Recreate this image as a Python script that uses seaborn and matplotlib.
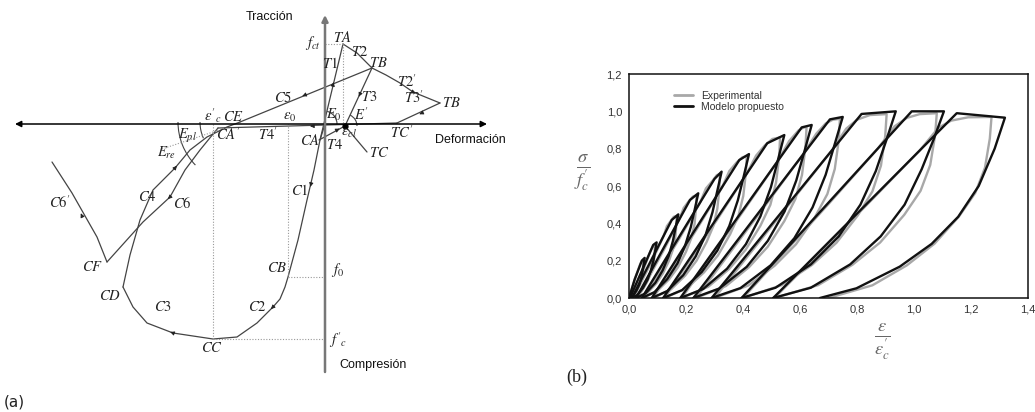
import numpy as np
import pandas as pd
import matplotlib
matplotlib.use("Agg")
import matplotlib.pyplot as plt
from matplotlib.patches import Arc
from matplotlib.lines import Line2D
from matplotlib.ticker import FuncFormatter
import seaborn as sns

sns.set_theme(style="white")
plt.rcParams["font.family"] = ["Liberation Sans", "DejaVu Sans"]
plt.rcParams["mathtext.fontset"] = "stix"

# ---------------- (a) schematic model: branch data (strain, stress) ----------------
comp_env_x = [0, -5, -11, -18, -27, -37, -40, -45, -52, -68, -88, -112, -152, -178, -192, -202]
comp_env_y = [0, -16, -46, -76, -116, -153, -163, -175, -183, -199, -213, -215, -209, -199, -183, -163]
c4_x = [-202, -195, -185, -172, -150, -135, -118, -98, -85]
c4_y = [-163, -131, -96, -66, -44, -26, -13, -3, 2]
c5_x = [-85, 47]
c5_y = [2, 56]
t1_x = [-5, 18]
t1_y = [-16, 80]
t2_x = [18, 32, 47]
t2_y = [80, 71, 56]
t2p_x = [47, 61, 75, 88, 115]
t2p_y = [56, 49, 41, 32, 21]
t3_x = [47, 20]
t3_y = [56, -2]
t3p_x = [115, 72]
t3p_y = [21, 1]
tc_x = [20, 42]
tc_y = [-2, -28]
t4_x = [-6, 20]
t4_y = [-16, -2]
t4p_x = [72, -107]
t4p_y = [1, -4]
c6_x = [-107, -125, -140, -155, -182, -218]
c6_y = [-4, -26, -46, -73, -98, -138]
c6p_x = [-218, -228, -253, -273]
c6p_y = [-138, -113, -69, -38]

# reference (dotted) lines
eps_c_x = [-112, -112]; eps_c_y = [0, -215]
eps_0_x = [-37, -37]; eps_0_y = [0, -153]
f0_x = [-37, 0]; f0_y = [-153, -153]
fc_x = [-112, 0]; fc_y = [-215, -215]
fct_x = [0, 18]; fct_y = [80, 80]
ta_x = [18, 18]; ta_y = [80, 0]
ere_x = [-163, -100]; ere_y = [-25, -4]

# ---------------- (b) cyclic curves (eps/eps'c, sigma/f'c) ----------------
model_loop_00 = [(0, 0), (0.02, 0.10), (0.045, 0.20), (0.055, 0.215), (0.052, 0.183), (0.048, 0.146), (0.043, 0.108), (0.036, 0.071), (0.026, 0.039), (0.014, 0.012), (0.003, 0)]
model_loop_01 = [(0.003, 0), (0.085, 0.284), (0.097, 0.298), (0.092, 0.253), (0.086, 0.203), (0.077, 0.149), (0.065, 0.098), (0.049, 0.054), (0.029, 0.016), (0.010, 0)]
model_loop_02 = [(0.010, 0), (0.150, 0.418), (0.173, 0.448), (0.164, 0.381), (0.154, 0.305), (0.139, 0.224), (0.118, 0.148), (0.092, 0.081), (0.058, 0.025), (0.025, 0)]
model_loop_03 = [(0.025, 0), (0.214, 0.525), (0.243, 0.561), (0.231, 0.477), (0.217, 0.381), (0.197, 0.281), (0.170, 0.185), (0.134, 0.101), (0.089, 0.031), (0.045, 0)]
model_loop_04 = [(0.045, 0), (0.300, 0.638), (0.325, 0.677), (0.310, 0.575), (0.293, 0.460), (0.269, 0.339), (0.234, 0.223), (0.190, 0.122), (0.134, 0.037), (0.080, 0)]
model_loop_05 = [(0.080, 0), (0.387, 0.739), (0.421, 0.771), (0.403, 0.655), (0.382, 0.524), (0.352, 0.386), (0.310, 0.254), (0.255, 0.139), (0.186, 0.042), (0.120, 0)]
model_loop_06 = [(0.120, 0), (0.485, 0.829), (0.545, 0.873), (0.523, 0.742), (0.498, 0.594), (0.461, 0.437), (0.410, 0.288), (0.344, 0.157), (0.260, 0.048), (0.180, 0)]
model_loop_07 = [(0.180, 0), (0.606, 0.914), (0.641, 0.927), (0.616, 0.788), (0.587, 0.630), (0.546, 0.464), (0.487, 0.306), (0.413, 0.167), (0.317, 0.051), (0.226, 0)]
model_loop_08 = [(0.226, 0), (0.705, 0.957), (0.750, 0.970), (0.722, 0.825), (0.690, 0.660), (0.644, 0.485), (0.580, 0.320), (0.497, 0.175), (0.391, 0.053), (0.290, 0)]
model_loop_09 = [(0.290, 0), (0.816, 0.986), (0.936, 1.000), (0.904, 0.850), (0.866, 0.680), (0.812, 0.500), (0.736, 0.330), (0.638, 0.180), (0.514, 0.055), (0.395, 0)]
model_loop_10 = [(0.395, 0), (0.992, 1.000), (1.105, 1.000), (1.069, 0.850), (1.027, 0.690), (0.967, 0.500), (0.883, 0.330), (0.776, 0.180), (0.638, 0.055), (0.506, 0)]
model_loop_11 = [(0.506, 0), (1.150, 0.990), (1.319, 0.966), (1.283, 0.800), (1.227, 0.600), (1.155, 0.435), (1.062, 0.290), (0.950, 0.168), (0.798, 0.052), (0.670, 0)]

exp_loop_00 = [(0, 0), (0.02, 0.10), (0.04, 0.185), (0.05, 0.205), (0.049, 0.17), (0.045, 0.12), (0.035, 0.065), (0.02, 0.02), (0.005, 0)]
exp_loop_01 = [(0.005, 0), (0.048, 0.142), (0.075, 0.25), (0.085, 0.282), (0.091, 0.29), (0.090, 0.255), (0.088, 0.209), (0.083, 0.168), (0.076, 0.131), (0.064, 0.087), (0.051, 0.052), (0.036, 0.020), (0.015, 0)]
exp_loop_02 = [(0.015, 0), (0.084, 0.209), (0.122, 0.334), (0.133, 0.385), (0.145, 0.41), (0.157, 0.435), (0.167, 0.44), (0.166, 0.387), (0.162, 0.317), (0.153, 0.255), (0.140, 0.198), (0.119, 0.132), (0.096, 0.079), (0.067, 0.031), (0.03, 0)]
exp_loop_03 = [(0.03, 0), (0.124, 0.2625), (0.176, 0.42), (0.192, 0.483), (0.208, 0.515), (0.224, 0.543), (0.237, 0.55), (0.235, 0.484), (0.230, 0.396), (0.218, 0.319), (0.200, 0.248), (0.172, 0.165), (0.140, 0.099), (0.100, 0.039), (0.05, 0)]
exp_loop_04 = [(0.05, 0), (0.177, 0.319), (0.249, 0.510), (0.270, 0.587), (0.293, 0.628), (0.308, 0.658), (0.319, 0.665), (0.317, 0.585), (0.310, 0.479), (0.296, 0.386), (0.272, 0.299), (0.237, 0.200), (0.197, 0.120), (0.148, 0.047), (0.085, 0)]
exp_loop_05 = [(0.085, 0), (0.238, 0.3695), (0.326, 0.591), (0.352, 0.680), (0.378, 0.727), (0.398, 0.754), (0.413, 0.76), (0.410, 0.669), (0.401, 0.547), (0.384, 0.441), (0.355, 0.342), (0.312, 0.228), (0.263, 0.137), (0.203, 0.053), (0.125, 0)]
exp_loop_06 = [(0.125, 0), (0.307, 0.4145), (0.412, 0.663), (0.446, 0.763), (0.476, 0.817), (0.503, 0.852), (0.53, 0.86), (0.527, 0.757), (0.516, 0.619), (0.496, 0.499), (0.461, 0.387), (0.409, 0.258), (0.351, 0.155), (0.278, 0.060), (0.185, 0)]
exp_loop_07 = [(0.185, 0), (0.397, 0.457), (0.521, 0.731), (0.562, 0.841), (0.595, 0.898), (0.612, 0.913), (0.623, 0.915), (0.619, 0.805), (0.607, 0.659), (0.584, 0.531), (0.545, 0.412), (0.487, 0.275), (0.421, 0.165), (0.340, 0.064), (0.235, 0)]
exp_loop_08 = [(0.235, 0), (0.470, 0.4785), (0.609, 0.766), (0.657, 0.880), (0.690, 0.935), (0.715, 0.955), (0.74, 0.96), (0.736, 0.845), (0.722, 0.691), (0.696, 0.557), (0.652, 0.432), (0.586, 0.288), (0.511, 0.173), (0.419, 0.067), (0.30, 0)]
exp_loop_09 = [(0.30, 0), (0.557, 0.493), (0.711, 0.789), (0.762, 0.907), (0.800, 0.955), (0.845, 0.980), (0.904, 0.985), (0.899, 0.867), (0.884, 0.709), (0.854, 0.571), (0.803, 0.443), (0.728, 0.296), (0.642, 0.177), (0.536, 0.069), (0.40, 0)]
exp_loop_10 = [(0.40, 0), (0.698, 0.5), (0.873, 0.8), (0.932, 0.92), (0.975, 0.965), (1.02, 0.985), (1.08, 0.99), (1.074, 0.871), (1.057, 0.713), (1.023, 0.574), (0.966, 0.446), (0.881, 0.297), (0.784, 0.178), (0.664, 0.069), (0.51, 0)]
exp_loop_11 = [(0.51, 0), (0.832, 0.495), (1.021, 0.792), (1.085, 0.911), (1.13, 0.95), (1.19, 0.968), (1.272, 0.97), (1.266, 0.854), (1.249, 0.698), (1.215, 0.563), (1.158, 0.437), (1.072, 0.291), (0.975, 0.175), (0.854, 0.068), (0.70, 0)]

model_loops = [model_loop_00, model_loop_01, model_loop_02, model_loop_03, model_loop_04, model_loop_05,
               model_loop_06, model_loop_07, model_loop_08, model_loop_09, model_loop_10, model_loop_11]
exp_loops = [exp_loop_00, exp_loop_01, exp_loop_02, exp_loop_03, exp_loop_04, exp_loop_05,
             exp_loop_06, exp_loop_07, exp_loop_08, exp_loop_09, exp_loop_10, exp_loop_11]

x_ticks = [0.0, 0.2, 0.4, 0.6, 0.8, 1.0, 1.2, 1.4]
y_ticks = [0.0, 0.2, 0.4, 0.6, 0.8, 1.0, 1.2]
legend_labels = ["Experimental", "Modelo propuesto"]


def loops_to_df(loops):
    rows = []
    for i, lp in enumerate(loops):
        for k, (x, y) in enumerate(lp):
            rows.append({"loop": i, "order": k, "x": x, "y": y})
    return pd.DataFrame(rows)


df_model = loops_to_df(model_loops)
df_exp = loops_to_df(exp_loops)

fig = plt.figure(figsize=(10.35, 4.12), dpi=100)
fig.patch.set_facecolor("white")

# ================= panel (a) =================
axL = fig.add_axes([0, 0, 520 / 1035, 1])
axL.set_xlim(-325, 195)
axL.set_ylim(-288, 124)
axL.axis("off")

lc = "#444444"
lw = 0.9
# axes
axL.annotate("", xy=(-310, 0), xytext=(162, 0),
             arrowprops=dict(arrowstyle="<|-|>", color="black", lw=1.1,
                             mutation_scale=9, shrinkA=0, shrinkB=0))
axL.annotate("", xy=(0, 109), xytext=(0, -248),
             arrowprops=dict(arrowstyle="-|>", color="#777777", lw=1.8,
                             mutation_scale=9, shrinkA=0, shrinkB=0))

branches = [(comp_env_x, comp_env_y), (c4_x, c4_y), (c5_x, c5_y), (t1_x, t1_y),
            (t2_x, t2_y), (t2p_x, t2p_y), (t3_x, t3_y), (t3p_x, t3p_y), (tc_x, tc_y),
            (t4_x, t4_y), (t4p_x, t4p_y), (c6_x, c6_y), (c6p_x, c6p_y)]
for bx, by in branches:
    axL.plot(bx, by, color=lc, lw=lw, solid_joinstyle="round")

dotted = [(eps_c_x, eps_c_y), (eps_0_x, eps_0_y), (f0_x, f0_y), (fc_x, fc_y),
          (fct_x, fct_y), (ta_x, ta_y), (ere_x, ere_y)]
for bx, by in dotted:
    axL.plot(bx, by, color="#999999", lw=0.8, ls=(0, (1, 1.5)))

axL.plot([20], [-2], "o", color="black", ms=3.5)

# arcs for moduli
axL.add_patch(Arc((-85, 2), 124, 124, theta1=180, theta2=224, color=lc, lw=0.8))
axL.add_patch(Arc((-85, 2), 80, 80, theta1=180, theta2=204, color=lc, lw=0.8))
axL.add_patch(Arc((-1, 0), 26, 26, theta1=0, theta2=76, color=lc, lw=0.8))
axL.add_patch(Arc((20, -2), 24, 24, theta1=0, theta2=65, color=lc, lw=0.8))

# direction arrows
arrows = [(-14, -60, -7, -30), (-52, -183, -16, -16), (-152, -209, -26, 10),
          (-150, -44, 15, 18), (-155, -73, -27, -25), (-243, -92, -10, 22),
          (-20, 29, -132, -54), (8, 39, 23, 96), (88, 32, 27, -11),
          (35, 30, -27, -58), (97, 11, -43, -20), (12, -6, 26, 14), (-12, -2, -179, -5)]
for x0, y0, dx, dy in arrows:
    n = np.hypot(dx, dy)
    axL.annotate("", xy=(x0 + 3 * dx / n, y0 + 3 * dy / n), xytext=(x0, y0),
                 arrowprops=dict(arrowstyle="-|>", color="#222222", lw=0.6,
                                 mutation_scale=6, shrinkA=0, shrinkB=0))

labels_a = [
    (r"$f_{ct}$", -12, 81), (r"$TA$", 17, 87), (r"$T2$", 35, 72), (r"$T1$", 5, 61),
    (r"$TB$", 53, 61), (r"$T2'$", 82, 42), (r"$T3$", 44, 27), (r"$TB$", 126, 21),
    (r"$C5$", -42, 27), (r"$E_0$", 9, 9), (r"$E'$", 36, 9), (r"$T3'$", 89, 26),
    (r"$\varepsilon'_c$", -112, 8), (r"$CE$", -91, 7), (r"$\varepsilon_0$", -35, 7),
    (r"$E_{pl}$", -138, -12), (r"$CA'$", -97, -11), (r"$T4'$", -57, -11),
    (r"$CA$", -15, -16), (r"$T4$", 10, -21), (r"$\varepsilon_{cl}$", 24, -9),
    (r"$TC'$", 77, -9), (r"$TC$", 54, -29), (r"$E_{re}$", -158, -29),
    (r"$C4$", -178, -73), (r"$C6$", -143, -79), (r"$C6'$", -265, -79),
    (r"$C1$", -25, -66), (r"$CF$", -232, -143), (r"$CB$", -48, -144),
    (r"$f_0$", 13, -146), (r"$CD$", -215, -172), (r"$C3$", -162, -183),
    (r"$C2$", -68, -183), (r"$f'_c$", 13, -216), (r"$CC$", -113, -224),
]
for txt, x, y in labels_a:
    axL.text(x, y, txt, fontsize=10.5, ha="center", va="center", color="#222222")

axL.text(-55, 107, "Tracción", fontsize=9, ha="center", va="center", color="#111111")
axL.text(145, -16, "Deformación", fontsize=9, ha="center", va="center", color="#111111")
axL.text(48, -241, "Compresión", fontsize=9, ha="center", va="center", color="#111111")
fig.text(14 / 1035, 1 - 402 / 412, "(a)", fontsize=11, ha="center", va="center",
         family="DejaVu Sans", color="#222222")

# ================= panel (b) =================
axR = fig.add_axes([629 / 1035, 1 - 298 / 412, 399 / 1035, 224 / 412])
sns.lineplot(data=df_exp, x="x", y="y", units="loop", estimator=None, sort=False,
             color="#a8a8a8", lw=1.7, ax=axR, legend=False)
sns.lineplot(data=df_model, x="x", y="y", units="loop", estimator=None, sort=False,
             color="#111111", lw=1.7, ax=axR, legend=False)
axR.set_xlim(0, 1.4)
axR.set_ylim(0, 1.2)
axR.set_xticks(x_ticks)
axR.set_yticks(y_ticks)
fmt = FuncFormatter(lambda v, p: f"{v:.1f}".replace(".", ","))
axR.xaxis.set_major_formatter(fmt)
axR.yaxis.set_major_formatter(fmt)
axR.tick_params(direction="in", length=4, width=0.8, color="#333333",
                labelsize=8, labelcolor="#333333", pad=5)
for s in axR.spines.values():
    s.set_color("#111111")
    s.set_linewidth(1.1)
    s.set_visible(True)

axR.set_xlabel(r"$\frac{\varepsilon}{\varepsilon^{\prime}_{c}}$", fontsize=19, color="#666666")
axR.set_ylabel(r"$\frac{\sigma}{f^{\prime}_{c}}$", fontsize=19, color="#666666", rotation=0)
axR.xaxis.label.set_va("center")
axR.yaxis.label.set_va("center")
axR.xaxis.set_label_coords(0.634, -0.196)
axR.yaxis.set_label_coords(-0.118, 0.558)

handles = [Line2D([0], [0], color="#a8a8a8", lw=2), Line2D([0], [0], color="#111111", lw=2)]
axR.legend(handles=handles, labels=legend_labels, loc="upper left",
           bbox_to_anchor=(0.113, 0.925), frameon=False, fontsize=7.5,
           handlelength=1.8, handletextpad=0.8, labelspacing=0.1,
           borderpad=0, borderaxespad=0, labelcolor="#333333")

fig.text(577 / 1035, 1 - 377 / 412, "(b)", fontsize=13, ha="center", va="center",
         family="Liberation Serif", color="#222222")

fig.savefig("out.png", dpi=100, facecolor="white")
